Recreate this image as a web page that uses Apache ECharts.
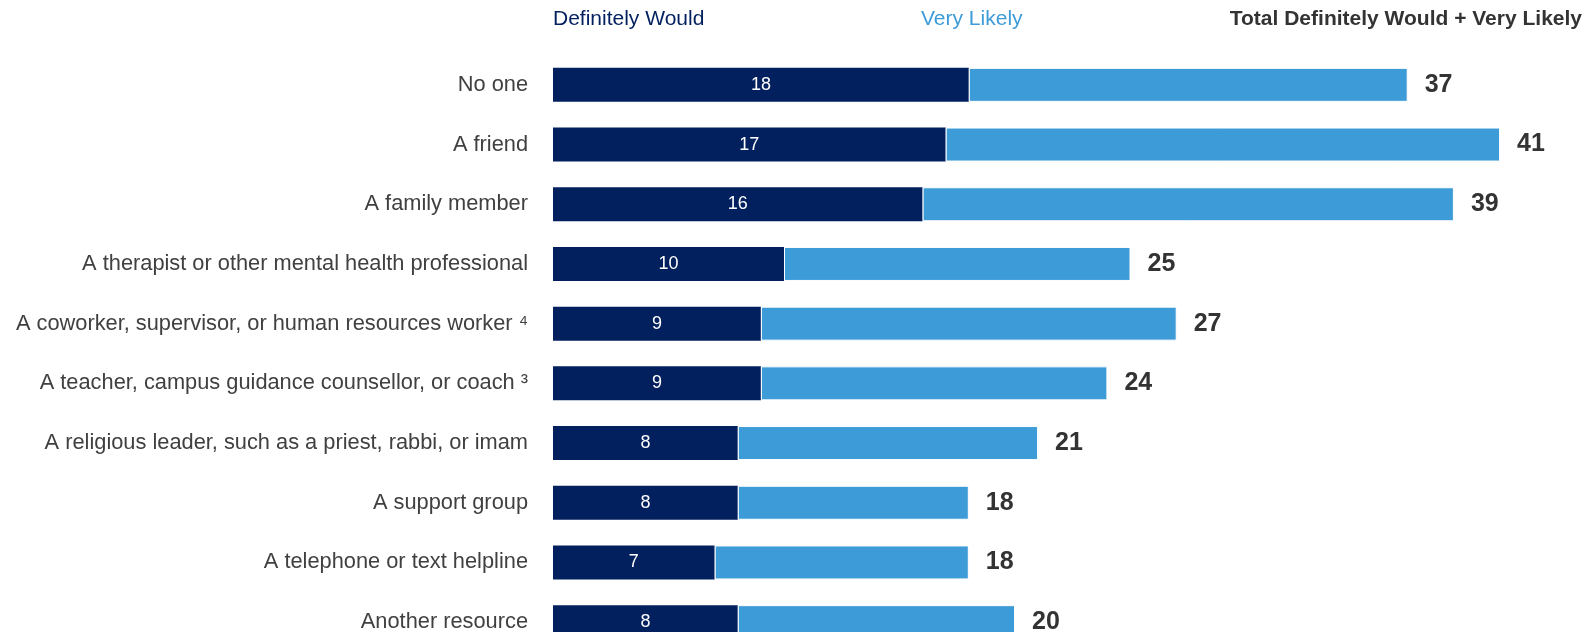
<!DOCTYPE html>
<html>
<head>
<meta charset="utf-8">
<script src="https://cdn.jsdelivr.net/npm/echarts@6/dist/echarts.min.js"></script>
<style>
html,body{margin:0;padding:0;background:#fff;}
#chart{width:1587px;height:632px;}
</style>
</head>
<body>
<div id="chart"></div>
<script>
const categories = [
  "No one",
  "A friend",
  "A family member",
  "A therapist or other mental health professional",
  "A coworker, supervisor, or human resources worker \u2074",
  "A teacher, campus guidance counsellor, or coach \u00b3",
  "A religious leader, such as a priest, rabbi, or imam",
  "A support group",
  "A telephone or text helpline",
  "Another resource"
];
const definitelyWould = [18, 17, 16, 10, 9, 9, 8, 8, 7, 8];
const veryLikely = [19, 24, 23, 15, 18, 15, 13, 10, 11, 12];
const totals = [37, 41, 39, 25, 27, 24, 21, 18, 18, 20];
const headerLabels = ["Definitely Would", "Very Likely", "Total Definitely Would + Very Likely"];

const DARK = "#021F5E";
const LIGHT = "#3D9CD8";
const FONT = "Liberation Sans, Arial, sans-serif";

const chart = echarts.init(document.getElementById("chart"), null, {renderer: "canvas"});
const pxPerUnit = 23.1;
const xMax = 45;
chart.setOption({
  animation: false,
  backgroundColor: "#fff",
  grid: {left: 553, top: 55, width: xMax * pxPerUnit, height: 597, containLabel: false, outerBoundsMode: "none"},
  xAxis: {type: "value", min: 0, max: xMax, show: false},
  yAxis: {
    type: "category", data: categories, inverse: true,
    axisLine: {show: false}, axisTick: {show: false}, splitLine: {show: false},
    axisLabel: {color: "#404040", fontFamily: FONT, fontSize: 21.8, margin: 25}
  },
  graphic: [
    {type: "text", left: 553, top: 9, style: {text: headerLabels[0], fill: DARK, font: "21px " + FONT}},
    {type: "text", left: 921, top: 9, style: {text: headerLabels[1], fill: LIGHT, font: "21px " + FONT}},
    {type: "text", right: 5, top: 9, style: {text: headerLabels[2], fill: "#333333", font: "bold 21px " + FONT}}
  ],
  series: [
    {
      name: headerLabels[0], type: "bar", stack: "s", data: definitelyWould, barWidth: 34,
      itemStyle: {color: DARK},
      label: {show: true, position: "inside", color: "#fff", fontFamily: FONT, fontSize: 18}
    },
    {
      name: headerLabels[1], type: "bar", stack: "s", data: veryLikely, barWidth: 34,
      itemStyle: {color: LIGHT, borderColor: "#fff", borderWidth: 1}
    },
    {
      name: headerLabels[2], type: "bar", data: totals, barWidth: 34, barGap: "-100%",
      itemStyle: {color: "rgba(0,0,0,0)"}, z: 1,
      label: {show: true, position: "right", distance: 17, color: "#333333", fontFamily: FONT, fontSize: 25, fontWeight: "bold"}
    }
  ]
});
</script>
</body>
</html>
